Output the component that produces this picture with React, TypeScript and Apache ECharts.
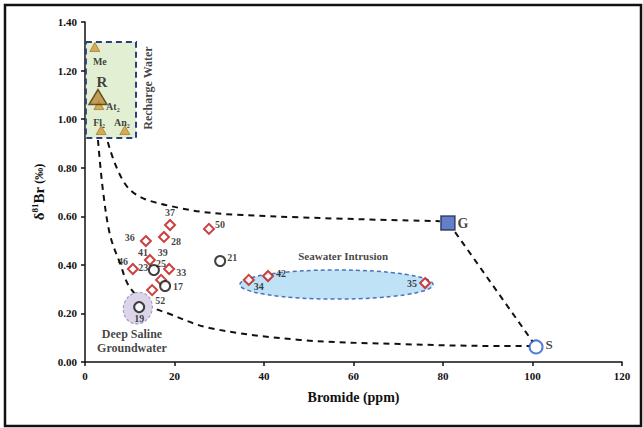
import React, { useEffect, useRef } from "react";
import * as echarts from "echarts";

// ---------- data ----------
const xTicks = [0, 20, 40, 60, 80, 100, 120];
const yTicks = [0, 0.2, 0.4, 0.6, 0.8, 1.0, 1.2, 1.4];

// Recharge water (triangles)
const rechargeNames = ["Me", "At₂", "Fl₂", "An₂"];
const rechargeX = [2.2, 3.1, 3.6, 8.9];
const rechargeY = [1.297, 1.058, 0.955, 0.955];
const rainName = ["R"];
const rainX = [2.9];
const rainY = [1.091];

// groundwater samples (diamonds)
const diamondNames = ["37", "28", "36", "41", "46", "33", "", "52", "50", "34", "42", "35"];
const diamondX = [19.0, 17.65, 13.6, 14.5, 10.7, 18.8, 17.0, 15.0, 27.7, 36.6, 40.9, 76.0];
const diamondY = [0.564, 0.515, 0.498, 0.42, 0.383, 0.383, 0.338, 0.296, 0.548, 0.338, 0.354, 0.325];

// groundwater samples (circles)
const circleNames = ["25", "17", "19", "21"];
const circleX = [15.4, 17.9, 12.1, 30.2];
const circleY = [0.379, 0.313, 0.226, 0.416];

// end members
const gName = ["G"];
const gX = [81.1];
const gY = [0.572];
const sName = ["S"];
const sX = [100.8];
const sY = [0.062];

// mixing envelopes (dashed)
const upperX = [5.1, 10.1, 21.2, 35.3, 79.3];
const upperY = [0.906, 0.708, 0.634, 0.605, 0.58];
const rightX = [82.7, 100.1];
const rightY = [0.535, 0.082];
const lowerX = [2.9, 4.0, 5.6, 7.8, 10.1, 14.5, 18.3, 27.9, 48.0, 70.4, 92.7, 99.4];
const lowerY = [0.914, 0.708, 0.523, 0.408, 0.305, 0.231, 0.202, 0.14, 0.091, 0.074, 0.066, 0.066];

// zones
const rechargeBox = [0.2, 1.318, 11.4, 0.922]; // x0, yTop, x1, yBottom
const seawaterEllipse = [56.2, 0.319, 21.6, 0.06]; // cx, cy, rx, ry
const salineEllipse = [11.8, 0.222, 3.2, 0.066];

// annotations
const noteNames = ["Recharge Water", "Seawater Intrusion", "Deep Saline\nGroundwater", "39", "23"];
const noteX = [14.1, 57.7, 10.5, 17.4, 13.0];
const noteY = [1.128, 0.436, 0.086, 0.449, 0.391];

// ---------- styles ----------
const FONT = "'Liberation Serif', 'Times New Roman', serif";
const labelOffsets: Record<string, [number, number]> = {
  Me: [5, 14],
  "At₂": [14, 1],
  "Fl₂": [-2, -8],
  "An₂": [-3, -8],
  R: [4, -15],
  "37": [0, -13],
  "28": [12, 5],
  "36": [-16, -4],
  "41": [-7, -8],
  "46": [-10, -7],
  "33": [12, 4],
  "52": [8, 10],
  "50": [11, -4],
  "34": [10, 7],
  "42": [13, -3],
  "35": [-13, 0],
  "25": [7, -6],
  "17": [13, 1],
  "19": [0, 11],
  "21": [12, -3],
  G: [15, 0],
  S: [13, -2],
};
const noteStyles: Record<string, any> = {
  "Recharge Water": { fontSize: 12, rotate: 90 },
  "Seawater Intrusion": { fontSize: 11 },
  "Deep Saline\nGroundwater": { fontSize: 12, lineHeight: 14 },
  "39": { fontSize: 10 },
  "23": { fontSize: 10 },
};

function pts(names: string[], xs: number[], ys: number[], fontSize = 10) {
  return names.map((n, i) => ({
    name: n,
    value: [xs[i], ys[i]],
    label: {
      show: n !== "",
      formatter: n,
      position: "inside",
      offset: labelOffsets[n] || [0, 0],
      fontFamily: FONT,
      fontWeight: "bold",
      fontSize,
      color: "#111",
    },
  }));
}

function pairs(xs: number[], ys: number[]) {
  return xs.map((x, i) => [x, ys[i]]);
}

const dashedLine = { color: "#111", width: 2, type: [6, 5] as any };

export default function App() {
  const ref = useRef<HTMLDivElement>(null);
  useEffect(() => {
    if (!ref.current) return;
    const chart = echarts.init(ref.current, null, { renderer: "svg" });
    const option: any = {
      animation: false,
      backgroundColor: "#fff",
      grid: { left: 85, right: 21, top: 22, bottom: 66 },
      xAxis: {
        type: "value",
        min: xTicks[0],
        max: xTicks[xTicks.length - 1],
        interval: 20,
        name: "Bromide (ppm)",
        nameLocation: "middle",
        nameGap: 28,
        nameTextStyle: { fontFamily: FONT, fontWeight: "bold", fontSize: 14, color: "#111" },
        axisLine: { lineStyle: { color: "#111", width: 1.5 } },
        axisTick: { show: true, length: 4, lineStyle: { color: "#111", width: 1.5 } },
        axisLabel: { fontFamily: FONT, fontWeight: "bold", fontSize: 11, color: "#111", margin: 8 },
        splitLine: { show: false },
      },
      yAxis: {
        type: "value",
        min: yTicks[0],
        max: yTicks[yTicks.length - 1],
        interval: 0.2,
        name: "{a|δ}{s|81}{a|Br} {b|(‰)}",
        nameLocation: "middle",
        nameGap: 38,
        nameTextStyle: {
          fontFamily: FONT,
          color: "#111",
          rich: {
            a: { fontFamily: FONT, fontWeight: "bold", fontSize: 15, color: "#111" },
            s: { fontFamily: FONT, fontWeight: "bold", fontSize: 9, color: "#111", padding: [0, 0, 8, 0] },
            b: { fontFamily: FONT, fontWeight: "bold", fontSize: 12, color: "#111" },
          },
        },
        axisLine: { show: true, lineStyle: { color: "#111", width: 1.5 } },
        axisTick: { show: true, length: 4, lineStyle: { color: "#111", width: 1.5 } },
        axisLabel: {
          fontFamily: FONT,
          fontWeight: "bold",
          fontSize: 11,
          color: "#111",
          margin: 8,
          formatter: (v: number) => v.toFixed(2),
        },
        splitLine: { show: false },
      },
      graphic: [
        {
          type: "rect",
          shape: { x: 5, y: 5, width: 636, height: 421 },
          style: { fill: "none", stroke: "#111", lineWidth: 2.5 },
          z: 100,
        },
      ],
      series: [
        {
          type: "custom",
          z: 1,
          clip: false,
          data: [rechargeBox],
          renderItem: (_p: any, api: any) => {
            const a = api.coord([api.value(0), api.value(1)]);
            const b = api.coord([api.value(2), api.value(3)]);
            return {
              type: "rect",
              shape: { x: a[0], y: a[1], width: b[0] - a[0], height: b[1] - a[1] },
              style: { fill: "#e3efd2", stroke: "#2b3f7c", lineWidth: 2, lineDash: [6, 4] },
            };
          },
        },
        {
          type: "custom",
          z: 1,
          clip: false,
          data: [seawaterEllipse],
          renderItem: (_p: any, api: any) => {
            const c = api.coord([api.value(0), api.value(1)]);
            const s = api.size([api.value(2), api.value(3)]);
            return {
              type: "ellipse",
              shape: { cx: c[0], cy: c[1], rx: s[0], ry: s[1] },
              style: { fill: "#bfe2f6", stroke: "#4a72c0", lineWidth: 1.5, lineDash: [4, 3] },
            };
          },
        },
        {
          type: "line",
          z: 2,
          data: pairs(upperX, upperY),
          smooth: 0.35,
          showSymbol: false,
          symbol: "none",
          lineStyle: dashedLine,
        },
        {
          type: "line",
          z: 2,
          data: pairs(rightX, rightY),
          showSymbol: false,
          symbol: "none",
          lineStyle: dashedLine,
        },
        {
          type: "line",
          z: 2,
          data: pairs(lowerX, lowerY),
          smooth: 0.35,
          showSymbol: false,
          symbol: "none",
          lineStyle: dashedLine,
        },
        {
          type: "custom",
          z: 3,
          clip: false,
          data: [salineEllipse],
          renderItem: (_p: any, api: any) => {
            const c = api.coord([api.value(0), api.value(1)]);
            const s = api.size([api.value(2), api.value(3)]);
            return {
              type: "ellipse",
              x: c[0],
              y: c[1],
              rotation: -0.35,
              shape: { cx: 0, cy: 0, rx: s[0], ry: s[1] },
              style: { fill: "#dcd5ea", stroke: "#a59ccb", lineWidth: 1.2, lineDash: [3, 2] },
            };
          },
        },
        {
          type: "scatter",
          z: 5,
          symbol: "triangle",
          symbolSize: [10, 9],
          itemStyle: { color: "#cf9a34", borderColor: "#9a6e1e", borderWidth: 0.8 },
          data: pts(rechargeNames, rechargeX, rechargeY, 10),
        },
        {
          type: "scatter",
          z: 5,
          symbol: "triangle",
          symbolSize: [18, 15],
          itemStyle: { color: "#b88a35", borderColor: "#4a3510", borderWidth: 1.5 },
          data: pts(rainName, rainX, rainY, 15),
        },
        {
          type: "scatter",
          z: 5,
          symbol: "diamond",
          symbolSize: 10,
          itemStyle: { color: "#fff", borderColor: "#c01010", borderWidth: 2 },
          data: pts(diamondNames, diamondX, diamondY, 10),
        },
        {
          type: "scatter",
          z: 5,
          symbol: "circle",
          symbolSize: 10,
          itemStyle: { color: "#fff", borderColor: "#111", borderWidth: 2 },
          data: pts(circleNames, circleX, circleY, 10),
        },
        {
          type: "scatter",
          z: 5,
          symbol: "rect",
          symbolSize: 14,
          itemStyle: { color: "#3f5fb8", borderColor: "#1a2550", borderWidth: 1.5 },
          data: pts(gName, gX, gY, 14),
        },
        {
          type: "scatter",
          z: 5,
          symbol: "circle",
          symbolSize: 13,
          itemStyle: { color: "#fff", borderColor: "#2a5ed0", borderWidth: 2 },
          data: pts(sName, sX, sY, 13),
        },
        {
          type: "scatter",
          z: 6,
          symbolSize: 0,
          itemStyle: { color: "transparent" },
          data: noteNames.map((n, i) => ({
            name: n,
            value: [noteX[i], noteY[i]],
            label: {
              show: true,
              formatter: n,
              position: "inside",
              fontFamily: FONT,
              fontWeight: "bold",
              color: "#111",
              align: "center",
              ...noteStyles[n],
            },
          })),
        },
      ],
    };
    chart.setOption(option);
    return () => chart.dispose();
  }, []);
  return (
    <div
      ref={ref}
      style={{ position: "fixed", left: 0, top: 0, width: 643, height: 428, background: "#fff" }}
    />
  );
}
